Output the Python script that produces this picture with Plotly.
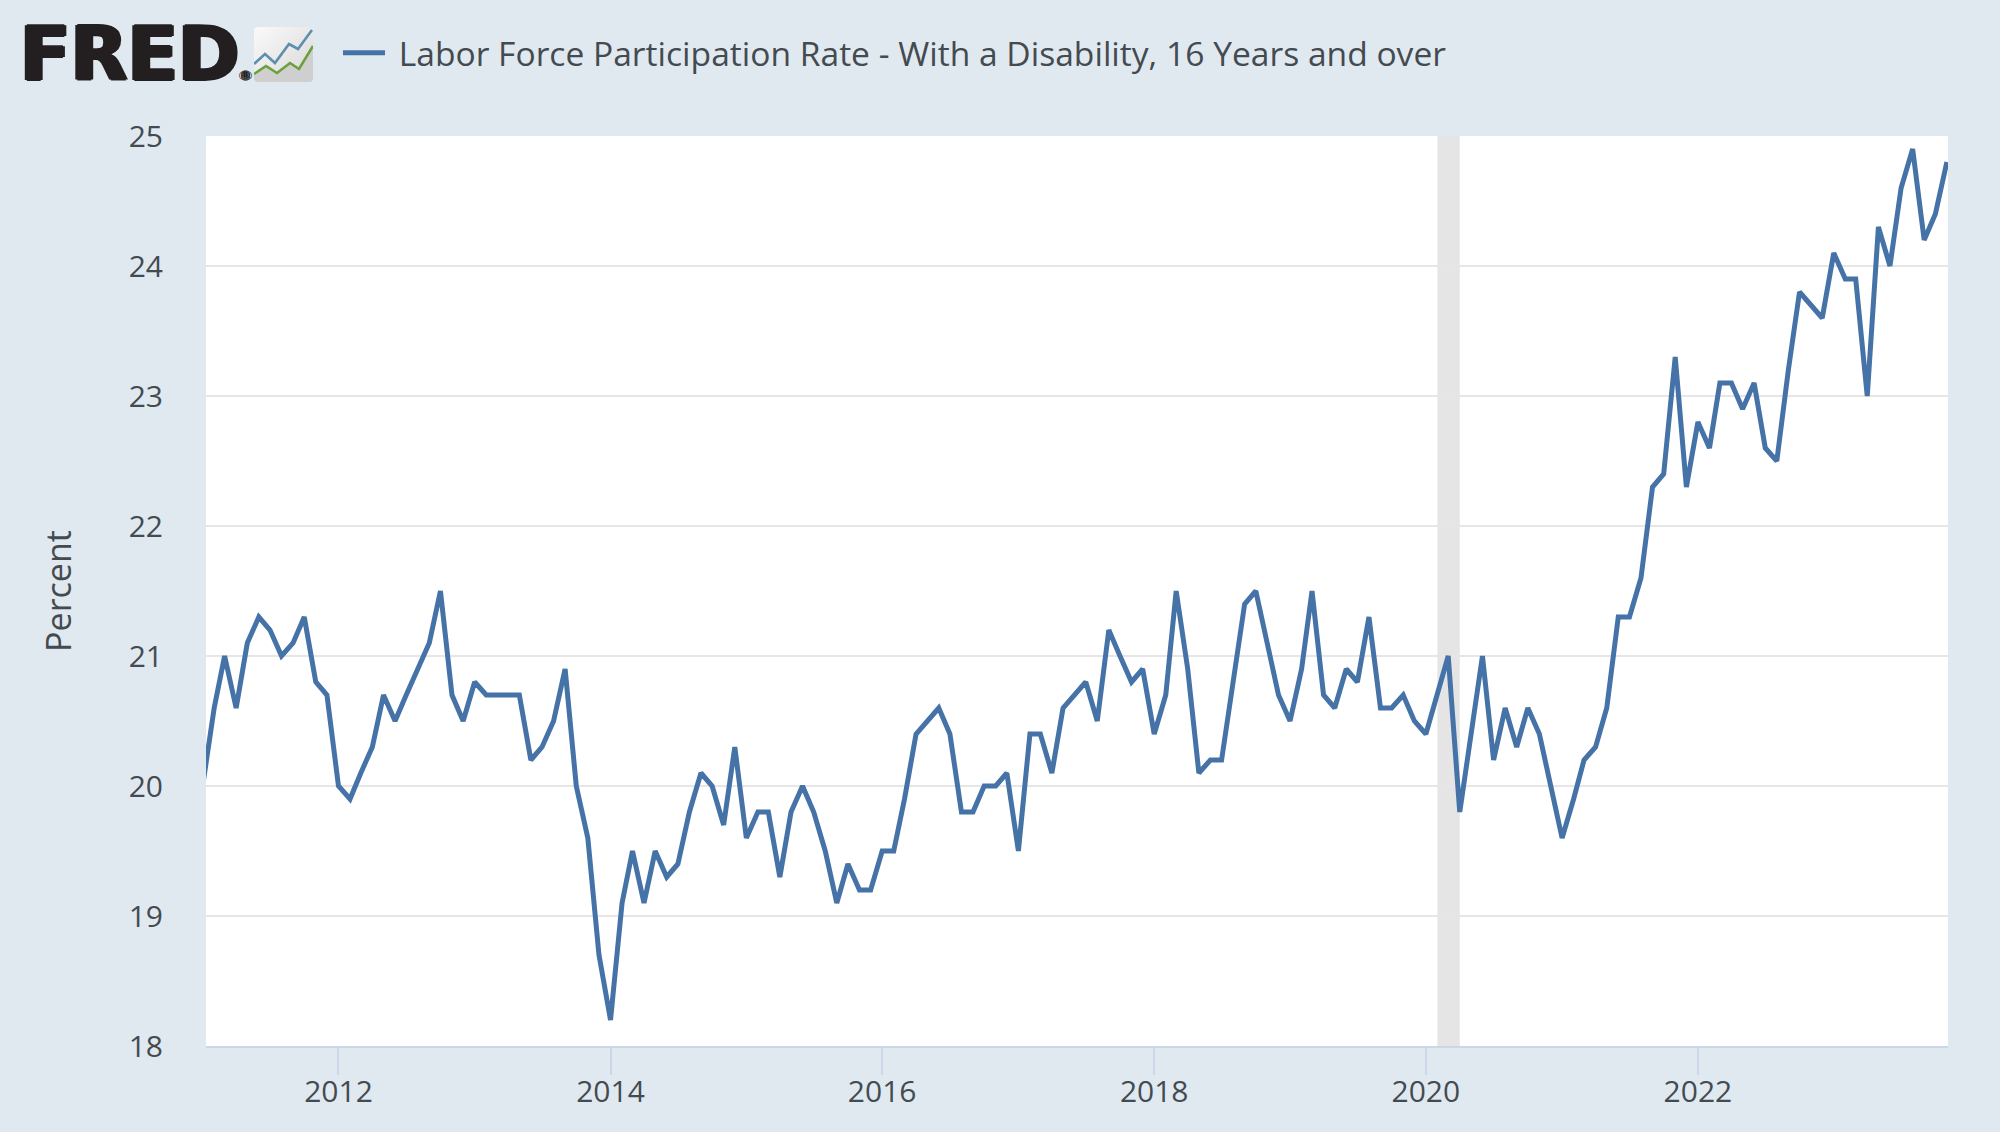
import base64
import pandas as pd
import plotly.graph_objects as go

# ---- data (monthly, percent) ----
start_month = "2011-01-01"
values_2011 = [20.0, 20.6, 21.0, 20.6, 21.1, 21.3, 21.2, 21.0, 21.1, 21.3, 20.8, 20.7]
values_2012 = [20.0, 19.9, 20.1, 20.3, 20.7, 20.5, 20.7, 20.9, 21.1, 21.5, 20.7, 20.5]
values_2013 = [20.8, 20.7, 20.7, 20.7, 20.7, 20.2, 20.3, 20.5, 20.9, 20.0, 19.6, 18.7]
values_2014 = [18.2, 19.1, 19.5, 19.1, 19.5, 19.3, 19.4, 19.8, 20.1, 20.0, 19.7, 20.3]
values_2015 = [19.6, 19.8, 19.8, 19.3, 19.8, 20.0, 19.8, 19.5, 19.1, 19.4, 19.2, 19.2]
values_2016 = [19.5, 19.5, 19.9, 20.4, 20.5, 20.6, 20.4, 19.8, 19.8, 20.0, 20.0, 20.1]
values_2017 = [19.5, 20.4, 20.4, 20.1, 20.6, 20.7, 20.8, 20.5, 21.2, 21.0, 20.8, 20.9]
values_2018 = [20.4, 20.7, 21.5, 20.9, 20.1, 20.2, 20.2, 20.8, 21.4, 21.5, 21.1, 20.7]
values_2019 = [20.5, 20.9, 21.5, 20.7, 20.6, 20.9, 20.8, 21.3, 20.6, 20.6, 20.7, 20.5]
values_2020 = [20.4, 20.7, 21.0, 19.8, 20.4, 21.0, 20.2, 20.6, 20.3, 20.6, 20.4, 20.0]
values_2021 = [19.6, 19.9, 20.2, 20.3, 20.6, 21.3, 21.3, 21.6, 22.3, 22.4, 23.3, 22.3]
values_2022 = [22.8, 22.6, 23.1, 23.1, 22.9, 23.1, 22.6, 22.5, 23.2, 23.8, 23.7, 23.6]
values_2023 = [24.1, 23.9, 23.9, 23.0, 24.3, 24.0, 24.6, 24.9, 24.2, 24.4, 24.8]

series_name = "\u00a0Labor Force Participation Rate - With a Disability, 16 Years and over"
y_title = "Percent"
y_ticks = [18, 19, 20, 21, 22, 23, 24, 25]
x_tick_years = [2012, 2014, 2016, 2018, 2020, 2022]
recession = ["2020-02-01", "2020-04-01"]
x_range = ["2011-01-10", "2023-11-04"]

values = (values_2011 + values_2012 + values_2013 + values_2014 + values_2015 + values_2016
          + values_2017 + values_2018 + values_2019 + values_2020 + values_2021 + values_2022
          + values_2023)
dates = pd.date_range(start_month, periods=len(values), freq="MS")

W, H = 2000, 1132
L, R, T, B = 206, 1948, 136, 1046


def px(x):
    return (x - L) / (R - L)


def py(y):
    return (B - y) / (B - T)


BG = "#e1e9f0"
TXT = "#444b50"
FONT = "Open Sans"
LOGO = "#231f20"

icon_svg = """<svg xmlns='http://www.w3.org/2000/svg' viewBox='0 0 59 55' width='59' height='55'>
<defs><linearGradient id='g' x1='0' y1='0' x2='1' y2='1'><stop offset='0' stop-color='#fafafa'/>
<stop offset='1' stop-color='#d8d8d8'/></linearGradient></defs>
<rect width='59' height='55' rx='4' fill='url(#g)'/>
<path d='M0 47L12 39L23 46L36 36L45 42L59 19V51a4 4 0 0 1-4 4H4a4 4 0 0 1-4-4Z' fill='#cfcfcf'/>
<path d='M0 37L11 27L21 36L35 17L44 22L58 3' fill='none' stroke='#5d8fae' stroke-width='2.6'/>
<path d='M0 47L12 39L23 46L36 36L45 42L59 19' fill='none' stroke='#6ca03c' stroke-width='2.6'/>
</svg>"""
icon_uri = "data:image/svg+xml;base64," + base64.b64encode(icon_svg.encode()).decode()

fig = go.Figure(go.Scatter(
    x=dates, y=values, mode="lines", name=series_name,
    line=dict(color="#4572a7", width=5), hoverinfo="x+y",
))

fig.update_layout(
    width=W, height=H,
    margin=dict(l=L, r=W - R, t=T, b=H - B, pad=0),
    paper_bgcolor=BG, plot_bgcolor="#ffffff",
    font=dict(family=FONT, color=TXT, size=30),
    showlegend=True,
    legend=dict(
        x=px(338), y=py(53), xanchor="left", yanchor="middle",
        bgcolor="rgba(0,0,0,0)", font=dict(family=FONT, size=33.6, color=TXT),
        itemwidth=42, orientation="h",
    ),
    xaxis=dict(
        type="date", range=x_range,
        tickvals=[f"{y}-01-01" for y in x_tick_years],
        ticktext=[str(y) for y in x_tick_years],
        showgrid=False, zeroline=False,
        showline=True, linecolor="#ccd6eb", linewidth=2,
        ticks="outside", ticklen=27, tickwidth=2, tickcolor="#ccd6eb",
        ticklabelstandoff=-9,
        tickfont=dict(family=FONT, size=30, color=TXT),
    ),
    yaxis=dict(
        range=[18, 25], tickvals=y_ticks, ticktext=[str(t) for t in y_ticks],
        showgrid=True, gridcolor="#e6e6e6", gridwidth=2, zeroline=False,
        showline=False, ticks="", ticklabelstandoff=42,
        tickfont=dict(family=FONT, size=30, color=TXT),
        title=dict(text=y_title, font=dict(family=FONT, size=34, color=TXT), standoff=46),
    ),
    shapes=[dict(
        type="rect", xref="x", yref="paper", x0=recession[0], x1=recession[1], y0=0, y1=1,
        fillcolor="#e5e5e5", line=dict(width=0), layer="between",
    )],
    images=[dict(
        source=icon_uri, xref="paper", yref="paper",
        x=px(254), y=py(27), sizex=59 / (R - L), sizey=55 / (B - T),
        xanchor="left", yanchor="top", sizing="stretch", layer="above",
    )],
    annotations=[
        dict(text="<b>FRED</b><span style='font-size:12px'>®</span>",
             xref="paper", yref="paper", x=px(18), y=py(54),
             xanchor="left", yanchor="middle", showarrow=False,
             font=dict(family="DejaVu Sans", size=74, color=LOGO,
                       shadow=f"2px 0 {LOGO},-2px 0 {LOGO},0 1px {LOGO},0 -1px {LOGO}")),
    ],
)

fig.write_html(
    "out.html",
    config=dict(displayModeBar=False),
    post_script="document.body.style.margin='0';document.body.style.overflow='hidden';",
)
